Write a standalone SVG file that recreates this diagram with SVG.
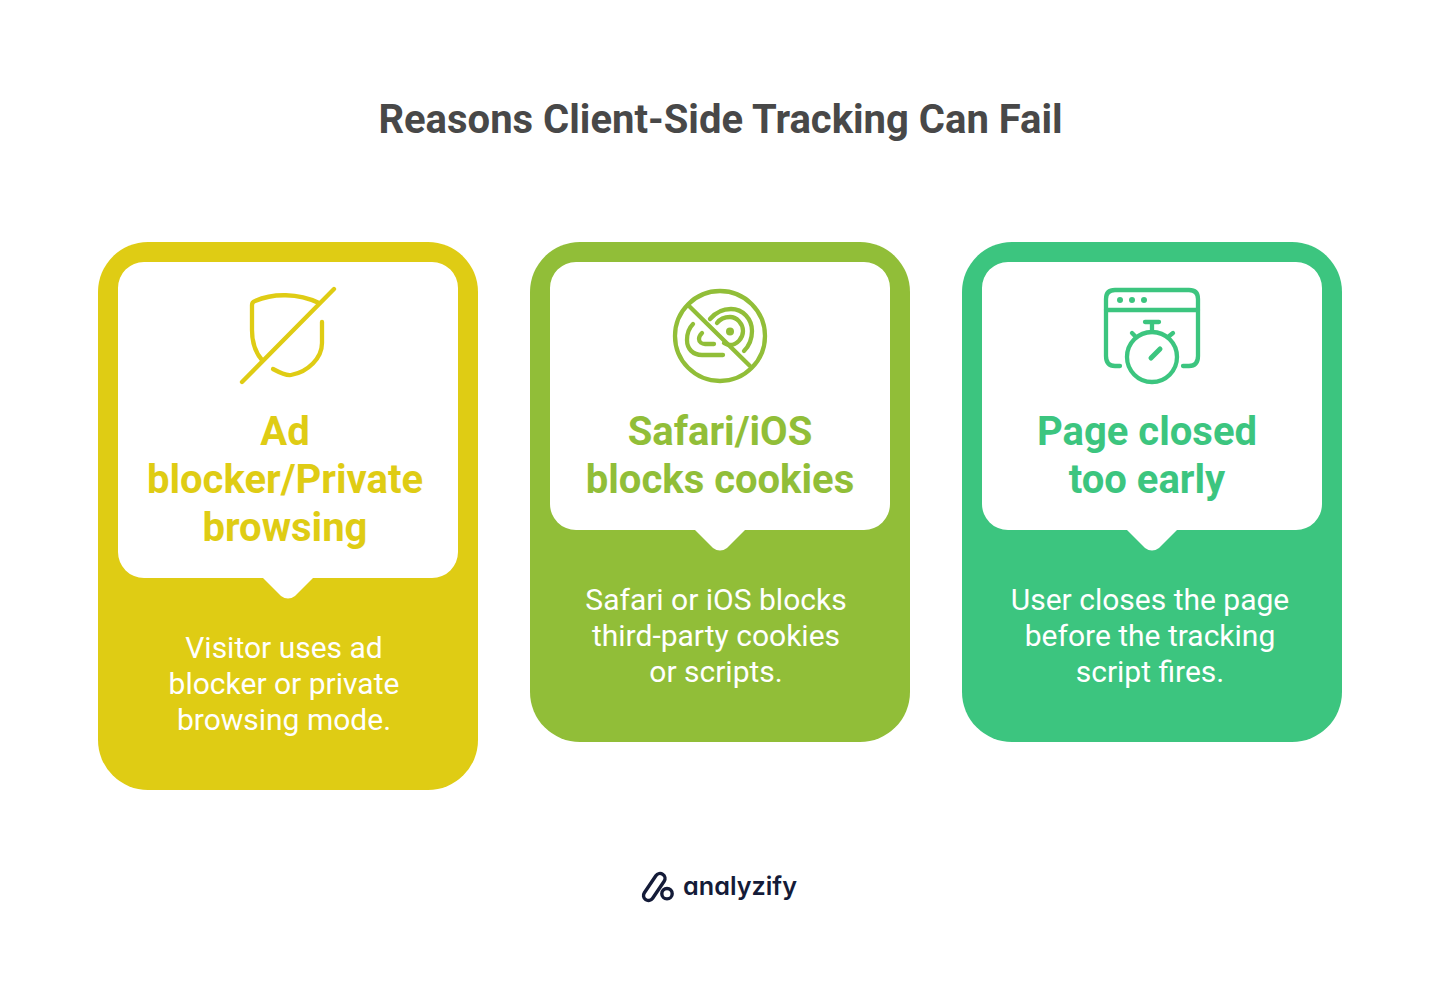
<svg xmlns="http://www.w3.org/2000/svg" width="1440" height="984" viewBox="0 0 1440 984">
<style>
text{font-family:Roboto,"Liberation Sans",sans-serif;text-anchor:middle}
.t{font-size:40px;font-weight:700}
.b{font-size:30px;fill:#fff}
.i{fill:none;stroke-width:4.300;stroke-linecap:round;stroke-linejoin:round}
.w{fill:#fff}
</style>
<rect width="1440" height="984" fill="#fff"/>
<text id="title" x="720.500" y="133" class="t" fill="#484848">Reasons Client-Side Tracking Can Fail</text>
<g id="card1">
<rect x="98" y="242" width="380" height="548" rx="50" fill="#DFCC14"/>
<path class="w" d="M144 262H432A26 26 0 0 1 458 288V552A26 26 0 0 1 432 578H313L295 596Q288 601 281 596L263 578H144A26 26 0 0 1 118 552V288A26 26 0 0 1 144 262Z"/>
<g class="i" stroke="#DFCC14">
<path d="M319 303C298 293 273 293 255 301Q252 302 252 305V330C252 342 255 352 262 360"/>
<path d="M322 322V343C322 358 308 372 291 375Q286 376 273 369"/>
<path d="M334 289L242 382"/>
</g>
<text x="285" y="445" class="t" fill="#DFCC14">Ad</text>
<text x="285" y="493" class="t" fill="#DFCC14">blocker/Private</text>
<text x="285" y="541" class="t" fill="#DFCC14">browsing</text>
<text x="284" y="658" class="b">Visitor uses ad</text>
<text x="284" y="694" class="b">blocker or private</text>
<text x="284" y="730" class="b">browsing mode.</text>
</g>
<g id="card2">
<rect x="530" y="242" width="380" height="500" rx="50" fill="#91BE38"/>
<path class="w" d="M576 262H864A26 26 0 0 1 890 288V504A26 26 0 0 1 864 530H745L727 548Q720 553 713 548L695 530H576A26 26 0 0 1 550 504V288A26 26 0 0 1 576 262Z"/>
<g class="i" stroke="#91BE38">
<circle cx="720" cy="336" r="45"/>
<path d="M689 306L750 366"/>
<path d="M710 319C716 312 723 309 731 309C743 309 752 319 752 331C752 339 749 346 744 351"/>
<path d="M717 323C720 319 725 317 730 317C737 317 743 324 743 331C743 338 737 345 730 345Q727 345 724 343"/>
<path d="M693 324C689 328 687 334 687 340C687 349 693 355 702 355H723"/>
<path d="M702 333C700 335 699 337 699 339C699 342 702 344 705 344H714"/>
<circle cx="730" cy="331.500" r="4" fill="#91BE38" stroke="none"/>
</g>
<text x="720" y="445" class="t" fill="#91BE38">Safari/iOS</text>
<text x="720" y="493" class="t" fill="#91BE38">blocks cookies</text>
<text x="716" y="610" class="b">Safari or iOS blocks</text>
<text x="716" y="646" class="b">third-party cookies</text>
<text x="716" y="682" class="b">or scripts.</text>
</g>
<g id="card3">
<rect x="962" y="242" width="380" height="500" rx="50" fill="#3CC57F"/>
<path class="w" d="M1008 262H1296A26 26 0 0 1 1322 288V504A26 26 0 0 1 1296 530H1177L1159 548Q1152 553 1145 548L1127 530H1008A26 26 0 0 1 982 504V288A26 26 0 0 1 1008 262Z"/>
<g class="i" stroke="#3CC57F">
<path d="M1120 366H1115Q1106 366 1106 356V299Q1106 290 1115 290H1189Q1198 290 1198 299V356Q1198 366 1189 366H1183"/>
<path d="M1106 310H1198"/>
<circle cx="1152" cy="357" r="25"/>
<path d="M1152 322V332M1145 322H1159M1132 333L1136 337M1173 333L1168 337"/>
<path d="M1151 358L1160 349" stroke-width="5"/>
<circle cx="1120" cy="300" r="3" fill="#3CC57F" stroke="none"/>
<circle cx="1132" cy="300" r="3" fill="#3CC57F" stroke="none"/>
<circle cx="1144" cy="300" r="3" fill="#3CC57F" stroke="none"/>
</g>
<text x="1147" y="445" class="t" fill="#3CC57F">Page closed</text>
<text x="1147" y="493" class="t" fill="#3CC57F">too early</text>
<text x="1150" y="610" class="b">User closes the page</text>
<text x="1150" y="646" class="b">before the tracking</text>
<text x="1150" y="682" class="b">script fires.</text>
</g>
<g id="logo">
<path d="M664.150 881.300A5 5 0 0 0 655.850 875.700L644.350 892.700A5 5 0 0 0 652.650 898.300Z" fill="none" stroke="#141B38" stroke-width="3.400" stroke-linejoin="round"/>
<circle cx="667" cy="893.700" r="5.200" fill="none" stroke="#141B38" stroke-width="3.400"/>
<text x="740" y="895" font-size="25.200" font-weight="600" fill="#141B38" style="font-family:Inter,Lato,sans-serif;font-feature-settings:'cv11'">analyzify</text>
</g>
</svg>
